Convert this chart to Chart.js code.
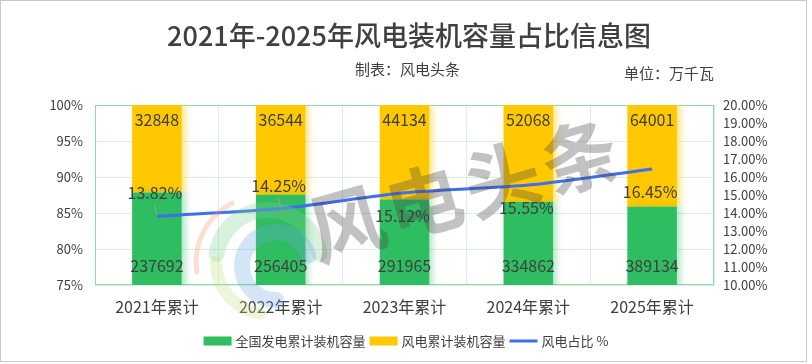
<!DOCTYPE html>
<html>
<head>
<meta charset="utf-8">
<script src="https://cdn.jsdelivr.net/npm/chart.js@4/dist/chart.umd.min.js"></script>
<style>
html,body{margin:0;padding:0;background:#fff;}
#wrap{width:812px;height:364px;position:relative;}
canvas{display:block;}
</style>
</head>
<body>
<div id="wrap"><canvas id="c" width="812" height="364"></canvas></div>
<script>
// ---- data (万千瓦) ----
const categories = ['2021年累计', '2022年累计', '2023年累计', '2024年累计', '2025年累计'];
const totalCapacity = [237692, 256405, 291965, 334862, 389134];   // 全国发电累计装机容量
const windCapacity = [32848, 36544, 44134, 52068, 64001];          // 风电累计装机容量
const windShare = [13.82, 14.25, 15.12, 15.55, 16.45];             // 风电占比 %
const leftTicks = [75, 80, 85, 90, 95, 100];
const rightTicks = [10, 11, 12, 13, 14, 15, 16, 17, 18, 19, 20];

// percent-stacked heights built from the values above
const totalPct = totalCapacity.map((v, i) => v / (v + windCapacity[i]) * 100);
const windPct = windCapacity.map((v, i) => v / (totalCapacity[i] + v) * 100);

const FONT = '"Noto Sans CJK SC", "Noto Sans", sans-serif';
const TXT = '#404040';
const GREEN = '#2fbd61';
const YELLOW = '#ffc800';
const BLUE = '#3d6fee';

const decor = {
  id: 'decor',
  beforeDraw(chart) {
    const ctx = chart.ctx;
    ctx.save();
    ctx.fillStyle = '#fff';
    ctx.fillRect(0, 0, chart.width, chart.height);
    ctx.restore();
  },
  beforeDatasetsDraw(chart) {
    const ctx = chart.ctx, a = chart.chartArea;
    ctx.save();
    ctx.strokeStyle = '#8fdaa8';
    ctx.lineWidth = 1;
    ctx.strokeRect(Math.round(a.left) + 0.5, Math.round(a.top) + 0.5,
      Math.round(a.right - a.left) - 1, Math.round(a.bottom - a.top) - 1);
    ctx.restore();
  },
  beforeDatasetDraw(chart, args) {
    const ds = chart.data.datasets[args.index];
    if (ds.type === 'line') return;
    const ctx = chart.ctx;
    ctx.save();
    ctx.shadowColor = ds._shadow;
    ctx.shadowBlur = 6;
    ctx.shadowOffsetX = 4;
    ctx.shadowOffsetY = 0;
  },
  afterDatasetDraw(chart, args) {
    const ds = chart.data.datasets[args.index];
    if (ds.type === 'line') return;
    chart.ctx.restore();
  },
  afterDatasetsDraw(chart, args, opts) {
    const ctx = chart.ctx, a = chart.chartArea;
    // logo (faint)
    ctx.save();
    ctx.beginPath();
    ctx.rect(a.left, a.top, a.right - a.left, chart.height - a.top);
    ctx.clip();
    const cx = 262, cy = 262;
    ctx.lineCap = 'round';
    ctx.strokeStyle = 'rgba(240,150,110,0.30)'; ctx.lineWidth = 5;
    ctx.beginPath(); ctx.arc(cx, cy, 66, Math.PI * 0.95, Math.PI * 1.35); ctx.stroke();
    ctx.strokeStyle = 'rgba(130,210,150,0.30)'; ctx.lineWidth = 16;
    ctx.beginPath(); ctx.arc(cx + 6, cy, 52, Math.PI * 1.05, Math.PI * 1.95); ctx.stroke();
    ctx.strokeStyle = 'rgba(200,225,130,0.30)'; ctx.lineWidth = 12;
    ctx.beginPath(); ctx.arc(cx + 6, cy, 52, Math.PI * 0.55, Math.PI * 1.0); ctx.stroke();
    ctx.strokeStyle = 'rgba(110,170,230,0.30)'; ctx.lineWidth = 16;
    ctx.beginPath(); ctx.arc(cx + 14, cy + 4, 34, Math.PI * 0.5, Math.PI * 1.9); ctx.stroke();
    ctx.restore();

    // watermark
    ctx.save();
    ctx.translate(463, 190);
    ctx.rotate(-0.28);
    ctx.font = 'bold 76px ' + FONT;
    ctx.fillStyle = 'rgba(70,70,70,0.33)';
    ctx.textAlign = 'center';
    ctx.textBaseline = 'middle';
    const wm = '风电头条';
    for (let i = 0; i < wm.length; i++) ctx.fillText(wm[i], (i - 1.5) * 81, 0);
    ctx.restore();

    // value labels
    ctx.save();
    ctx.font = '16px ' + FONT;
    ctx.fillStyle = TXT;
    ctx.textAlign = 'center';
    ctx.textBaseline = 'middle';
    const mG = chart.getDatasetMeta(0), mY = chart.getDatasetMeta(1), mL = chart.getDatasetMeta(2);
    mY.data.forEach((el, i) => ctx.fillText(String(windCapacity[i]), el.x, Math.max(el.y, a.top) + 15));
    mG.data.forEach((el, i) => ctx.fillText(String(totalCapacity[i]), el.x, a.bottom - 19));
    const side = opts.shareSide || [];
    mL.data.forEach((el, i) => {
      const up = side[i] === 'above';
      const ty = up ? el.y - 23 : el.y + 23;
      if (up) {
        ctx.save();
        ctx.strokeStyle = '#a0a0a0'; ctx.lineWidth = 1;
        ctx.beginPath(); ctx.moveTo(el.x - 2.5, el.y - 11); ctx.lineTo(el.x, el.y - 1); ctx.stroke();
        ctx.restore();
      }
      ctx.fillText(windShare[i].toFixed(2) + '%', el.x - 2, ty);
    });
    ctx.restore();
  },
  afterDraw(chart) {
    const ctx = chart.ctx;
    ctx.save();
    ctx.fillStyle = TXT;
    ctx.textBaseline = 'middle';
    ctx.textAlign = 'center';
    ctx.font = '500 27px ' + FONT;
    ctx.fillText('2021年-2025年风电装机容量占比信息图', 409, 36);
    ctx.font = '15px ' + FONT;
    ctx.textAlign = 'left';
    ctx.fillText('制表：风电头条', 355, 69);
    ctx.fillText('单位：万千瓦', 624, 73);

    // legend
    ctx.font = '13px ' + FONT;
    const items = chart.data.datasets.map(d => ({label: d.label, color: d.type === 'line' ? d.borderColor : d.backgroundColor, line: d.type === 'line'}));
    const boxW = 28, gapIn = 4, gapOut = 4;
    let total = 0;
    items.forEach(it => { it.w = ctx.measureText(it.label).width; total += boxW + gapIn + it.w; });
    total += gapOut * (items.length - 1);
    let x = 406 - total / 2;
    const ly = 341;
    items.forEach(it => {
      ctx.fillStyle = it.color;
      if (it.line) ctx.fillRect(x, ly - 1.5, boxW, 3);
      else ctx.fillRect(x, ly - 4.5, boxW, 9);
      x += boxW + gapIn;
      ctx.fillStyle = TXT;
      ctx.fillText(it.label, x, ly);
      x += it.w + gapOut;
    });

    // outer frame
    ctx.strokeStyle = '#c8c8c8';
    ctx.lineWidth = 1;
    ctx.strokeRect(0.5, 0.5, 806, 361);
    ctx.restore();
  }
};

new Chart(document.getElementById('c'), {
  data: {
    labels: categories,
    datasets: [
      {type: 'bar', label: '全国发电累计装机容量', data: totalPct, backgroundColor: GREEN, _shadow: 'rgba(47,189,97,0.35)', stack: 's', yAxisID: 'y', order: 1},
      {type: 'bar', label: '风电累计装机容量', data: windPct, backgroundColor: YELLOW, _shadow: 'rgba(255,200,0,0.45)', stack: 's', yAxisID: 'y', order: 2},
      {type: 'line', label: '风电占比 %', data: windShare, borderColor: BLUE, backgroundColor: BLUE, borderWidth: 3, pointRadius: 0, tension: 0.25, yAxisID: 'y1', order: 0}
    ]
  },
  options: {
    responsive: false,
    animation: false,
    layout: {padding: {top: 105, left: 0, right: 0, bottom: 0}},
    datasets: {bar: {categoryPercentage: 1, barPercentage: 0.4}},
    plugins: {
      legend: {display: false},
      tooltip: {enabled: false},
      title: {display: false},
      decor: {shareSide: ['above', 'above', 'below', 'below', 'below']}
    },
    scales: {
      x: {
        stacked: true,
        offset: true,
        grid: {color: '#d8f1e1', drawTicks: false, offset: true},
        border: {display: false},
        ticks: {color: TXT, font: {family: FONT, size: 16}, padding: 12},
        afterFit(s) { s.height = 79; }
      },
      y: {
        stacked: true,
        position: 'left',
        min: 75, max: 100,
        afterBuildTicks(s) { s.ticks = leftTicks.map(v => ({value: v})); },
        grid: {color: '#d8f1e1', drawTicks: false},
        border: {display: false},
        ticks: {color: TXT, font: {family: FONT, size: 13}, padding: 12, autoSkip: false, callback: v => v + '%'},
        afterFit(s) { s.width = 95; }
      },
      y1: {
        position: 'right',
        min: 10, max: 20,
        afterBuildTicks(s) { s.ticks = rightTicks.map(v => ({value: v})); },
        grid: {drawOnChartArea: false, drawTicks: false},
        border: {display: false},
        ticks: {color: TXT, font: {family: FONT, size: 13}, padding: 9, autoSkip: false, callback: v => v.toFixed(2) + '%'},
        afterFit(s) { s.width = 98; }
      }
    }
  },
  plugins: [decor]
});
</script>
</body>
</html>
